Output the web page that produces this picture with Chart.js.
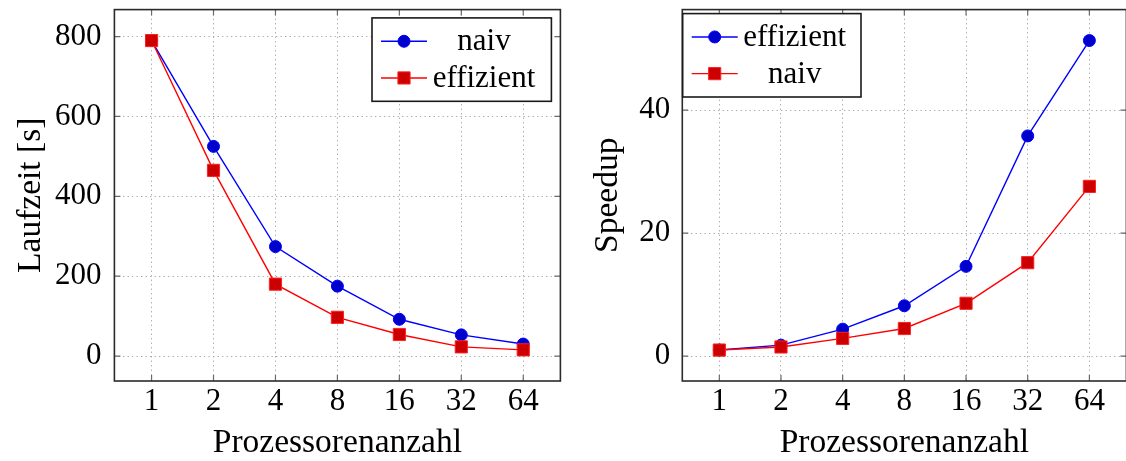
<!DOCTYPE html>
<html>
<head>
<meta charset="utf-8">
<script src="https://cdn.jsdelivr.net/npm/chart.js@4/dist/chart.umd.min.js"></script>
<style>
html,body{margin:0;padding:0;background:#fff;overflow:hidden;}
#wrap{position:relative;width:1126px;height:461px;overflow:hidden;background:#fff;}
#box1{position:absolute;left:0;top:0;width:570px;height:461px;}
#box2{position:absolute;left:570px;top:0;width:566px;height:461px;}
</style>
</head>
<body>
<div id="wrap">
  <div id="box1"><canvas id="c1"></canvas></div>
  <div id="box2"><canvas id="c2"></canvas></div>
</div>
<script>
// ---------------- data ----------------
const procs = [1, 2, 4, 8, 16, 32, 64];
const runtimeNaiv = [790, 525, 274, 175, 92, 53, 30];
const runtimeEff  = [790, 465, 180, 97, 54, 23, 15.5];
const speedupEff  = [1, 1.8, 4.4, 8.2, 14.6, 35.8, 51.3];
const speedupNaiv = [1, 1.5, 2.9, 4.5, 8.6, 15.2, 27.6];
const runtimeTicks = [0, 200, 400, 600, 800];
const speedupTicks = [0, 20, 40];
const xTitle = 'Prozessorenanzahl';
const runtimeTitle = 'Laufzeit [s]';
const speedupTitle = 'Speedup';

// ---------------- styling ----------------
const FONT = '"Liberation Serif", "Times New Roman", serif';
const FS = 31;
const TFS = 33.5;
Chart.defaults.font.family = FONT;
Chart.defaults.font.size = FS;
Chart.defaults.color = '#000';

const blueStyle = {
  borderColor: '#0000ff', backgroundColor: '#0000cc',
  pointStyle: 'circle', pointRadius: 6, pointHoverRadius: 6,
  pointBackgroundColor: '#0000cc', pointBorderColor: '#0000ff', pointBorderWidth: 1
};
const redStyle = {
  borderColor: '#ff0000', backgroundColor: '#cc0000',
  pointStyle: 'rect', pointRadius: 8.6, pointHoverRadius: 8.6,
  pointBackgroundColor: '#cc0000', pointBorderColor: '#ff2020', pointBorderWidth: 1
};

function series(vals) { return procs.map((p, i) => ({x: p, y: vals[i]})); }

// pgfplots-like frame, inner ticks and legend
const framePlugin = {
  id: 'frame',
  afterDraw(chart, args, opts) {
    const ctx = chart.ctx;
    const a = chart.chartArea;
    const xs = chart.scales.x, ys = chart.scales.y;
    ctx.save();
    ctx.strokeStyle = '#6a6a6a';
    ctx.lineWidth = 1.2;
    const TL = 6;
    ctx.beginPath();
    xs.ticks.forEach(t => {
      const px = xs.getPixelForValue(t.value);
      ctx.moveTo(px, a.top); ctx.lineTo(px, a.top + TL);
      ctx.moveTo(px, a.bottom); ctx.lineTo(px, a.bottom - TL);
    });
    ys.ticks.forEach(t => {
      const py = ys.getPixelForValue(t.value);
      ctx.moveTo(a.left, py); ctx.lineTo(a.left + TL, py);
      ctx.moveTo(a.right, py); ctx.lineTo(a.right - TL, py);
    });
    ctx.stroke();
    ctx.strokeStyle = '#2a2a2a';
    ctx.lineWidth = 1.6;
    ctx.strokeRect(a.left, a.top, a.right - a.left, a.bottom - a.top);

    // legend
    const L = opts.legend;
    const bx = L.anchor === 'right' ? a.right - L.dx - L.w : a.left + L.dx;
    const by = a.top + L.dy;
    ctx.fillStyle = '#fff';
    ctx.fillRect(bx, by, L.w, L.h);
    ctx.strokeStyle = '#1a1a1a';
    ctx.lineWidth = 1.6;
    ctx.strokeRect(bx, by, L.w, L.h);
    const ds = chart.data.datasets;
    ds.forEach((d, i) => {
      const ry = by + L.h * (i === 0 ? 0.28 : 0.72);
      ctx.strokeStyle = d.borderColor;
      ctx.lineWidth = d.borderWidth;
      ctx.beginPath();
      ctx.moveTo(bx + 9, ry); ctx.lineTo(bx + 55, ry);
      ctx.stroke();
      ctx.fillStyle = d.pointBackgroundColor;
      ctx.strokeStyle = d.pointBorderColor;
      ctx.lineWidth = d.pointBorderWidth;
      Chart.helpers.drawPoint(ctx, {pointStyle: d.pointStyle, radius: d.pointRadius, borderWidth: d.pointBorderWidth, rotation: 0}, bx + 32, ry);
      ctx.fillStyle = '#000';
      ctx.font = FS + 'px ' + FONT;
      ctx.textAlign = 'center';
      ctx.textBaseline = 'alphabetic';
      ctx.fillText(d.label, bx + 112, ry + 9);
    });
    ctx.restore();
  }
};

function makeChart(id, cfg) {
  return new Chart(document.getElementById(id), {
    type: 'line',
    data: {
      datasets: [
        Object.assign({label: cfg.labels[0], data: series(cfg.vals[0]), borderWidth: 1.4, tension: 0, fill: false, order: 1}, cfg.styles[0]),
        Object.assign({label: cfg.labels[1], data: series(cfg.vals[1]), borderWidth: 1.4, tension: 0, fill: false, order: 0}, cfg.styles[1])
      ]
    },
    options: {
      responsive: true,
      maintainAspectRatio: false,
      animation: false,
      events: [],
      layout: {padding: {left: 0, right: cfg.padRight, top: 9, bottom: 0}},
      plugins: {
        legend: {display: false},
        tooltip: {enabled: false},
        frame: {legend: cfg.legend}
      },
      scales: {
        x: {
          type: 'logarithmic',
          min: Math.pow(2, -0.6),
          max: Math.pow(2, 6.6),
          afterBuildTicks: s => { s.ticks = procs.map(v => ({value: v})); },
          afterFit: s => { s.height = 80; s.paddingLeft = 0; s.paddingRight = 0; },
          ticks: {autoSkip: false, maxRotation: 0, padding: 2.4, callback: v => String(v), font: {size: FS}},
          grid: {color: '#a8a8a8', lineWidth: 1, drawTicks: false},
          border: {display: false, dash: [1.3, 3.2]},
          title: {display: true, text: xTitle, padding: {top: 0, bottom: -2.5}, font: {size: TFS}}
        },
        y: {
          type: 'linear',
          min: cfg.ymin, max: cfg.ymax,
          afterBuildTicks: s => { s.ticks = cfg.yticks.map(v => ({value: v})); },
          afterFit: s => { s.width = cfg.yWidth; s.paddingTop = 0; s.paddingBottom = 0; },
          ticks: {padding: cfg.yPad, callback: v => String(v), font: {size: FS}},
          grid: {color: '#a8a8a8', lineWidth: 1, drawTicks: false},
          border: {display: false, dash: [1.3, 3.2]},
          title: {display: true, text: cfg.ytitle, padding: {top: cfg.titlePad, bottom: 0}, font: {size: TFS}}
        }
      }
    },
    plugins: [framePlugin]
  });
}

makeChart('c1', {
  labels: ['naiv', 'effizient'],
  vals: [runtimeNaiv, runtimeEff],
  styles: [blueStyle, redStyle],
  ymin: -62.5, ymax: 867.5, yticks: runtimeTicks,
  ytitle: runtimeTitle,
  yWidth: 114.4, yPad: 13, titlePad: 10.9,
  padRight: 8.4,
  legend: {anchor: 'right', dx: 9, dy: 8.3, w: 179.4, h: 83.4}
});

makeChart('c2', {
  labels: ['effizient', 'naiv'],
  vals: [speedupEff, speedupNaiv],
  styles: [blueStyle, redStyle],
  ymin: -4.03, ymax: 56.33, yticks: speedupTicks,
  ytitle: speedupTitle,
  yWidth: 112.3, yPad: 12, titlePad: 17.9,
  padRight: 6.4,
  legend: {anchor: 'left', dx: 0.4, dy: 4, w: 178.3, h: 83.4}
});
</script>
</body>
</html>
